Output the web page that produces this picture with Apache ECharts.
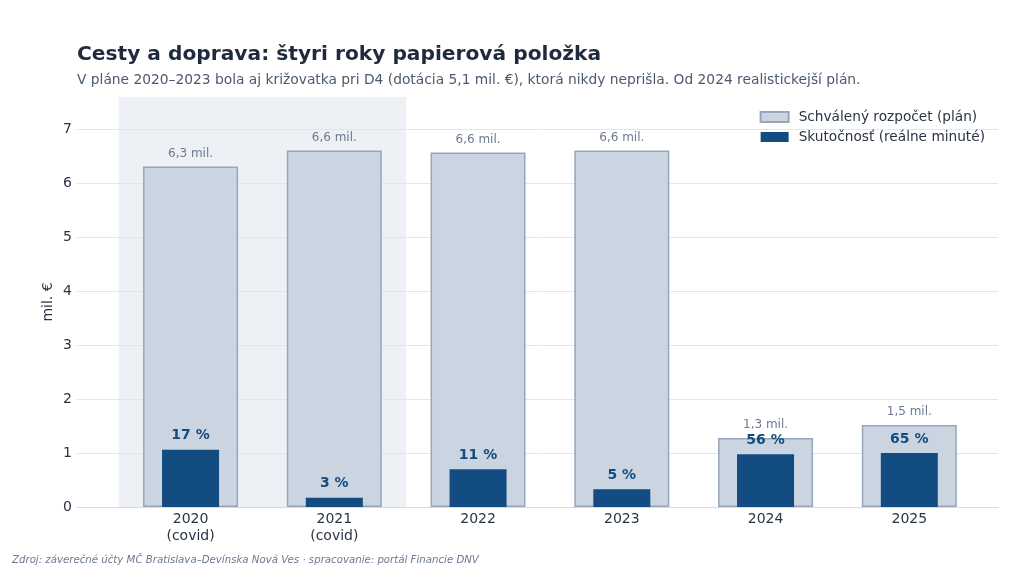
<!DOCTYPE html>
<html>
<head>
<meta charset="utf-8">
<script src="https://cdn.jsdelivr.net/npm/echarts@6/dist/echarts.min.js"></script>
<style>
html,body{margin:0;padding:0;background:#fff;}
#c{width:1024px;height:570px;}
</style>
</head>
<body>
<div id="c"></div>
<script>
const years = ['2020', '2021', '2022', '2023', '2024', '2025'];
const yearLabels = ['2020\n(covid)', '2021\n(covid)', '2022', '2023', '2024', '2025'];
const planValues = [6.31, 6.61, 6.57, 6.61, 1.28, 1.52];
const actualValues = [1.06, 0.17, 0.70, 0.33, 0.98, 1.00];
const pctLabels = [17, 3, 11, 5, 56, 65];
const yTicks = [0, 1, 2, 3, 4, 5, 6, 7];
const covidRange = [-0.5, 1.5];

const FONT = 'DejaVu Sans';
const chart = echarts.init(document.getElementById('c'), null, {renderer: 'canvas'});

const xIdx = years.map((y, i) => i);
const xAxisBase = {
  type: 'value',
  min: -0.79,
  max: 5.617,
  splitLine: {show: false},
  axisTick: {show: false},
};

chart.setOption({
  animation: false,
  backgroundColor: '#ffffff',
  textStyle: {fontFamily: FONT},
  title: [
    {
      text: 'Cesty a doprava: štyri roky papierová položka',
      left: 72, top: 40,
      textStyle: {fontFamily: FONT, fontSize: 20.2, fontWeight: 'bold', color: '#1f2a3c'}
    },
    {
      text: 'V pláne 2020–2023 bola aj križovatka pri D4 (dotácia 5,1 mil. €), ktorá nikdy neprišla. Od 2024 realistickejší plán.',
      left: 72, top: 68,
      textStyle: {fontFamily: FONT, fontSize: 13.8, fontWeight: 'normal', color: '#4b5a6e'}
    },
    {
      text: 'Zdroj: záverečné účty MČ Bratislava–Devínska Nová Ves · spracovanie: portál Financie DNV',
      left: 7, top: 550,
      textStyle: {fontFamily: FONT, fontSize: 10.2, fontStyle: 'italic', fontWeight: 'normal', color: '#6b7a90'}
    }
  ],
  legend: {
    right: 34, top: 105,
    orient: 'vertical',
    itemWidth: 28, itemHeight: 10, itemGap: 6,
    align: 'left',
    textStyle: {fontFamily: FONT, fontSize: 13.7, color: '#2a3444', padding: [0, 0, 0, 5]},
    data: [
      {name: 'Schválený rozpočet (plán)', icon: 'rect'},
      {name: 'Skutočnosť (reálne minuté)', icon: 'rect'}
    ]
  },
  grid: {left: 77, right: 26, top: 97, bottom: 63, containLabel: false},
  xAxis: [
    Object.assign({}, xAxisBase, {
      axisLine: {show: true, lineStyle: {color: '#d5dce5', width: 1}},
      axisLabel: {
        customValues: xIdx,
        formatter: v => yearLabels[Math.round(v)] || '',
        fontFamily: FONT, fontSize: 14, color: '#2a3444', lineHeight: 17, margin: 4
      }
    }),
    Object.assign({}, xAxisBase, {
      show: false
    })
  ],
  yAxis: {
    type: 'value',
    min: 0, max: 7.6,
    interval: 1,
    name: 'mil. €',
    nameLocation: 'middle',
    nameGap: 22,
    nameRotate: 90,
    nameMoveOverlap: false,
    nameTextStyle: {fontFamily: FONT, fontSize: 14, color: '#2a3444'},
    axisLine: {show: false},
    axisTick: {show: false},
    splitLine: {show: false},
    axisLabel: {
      customValues: yTicks,
      fontFamily: FONT, fontSize: 14, color: '#2a3444', margin: 5
    }
  },
  series: [
    {
      name: 'Schválený rozpočet (plán)',
      type: 'bar',
      xAxisIndex: 0,
      barWidth: 95,
      z: 2,
      data: planValues.map((v, i) => [i, v]),
      itemStyle: {color: '#cbd5e1', borderColor: '#97a6bb', borderWidth: 1.5},
      label: {
        show: true, position: 'top', distance: 7,
        formatter: p => p.value[1].toFixed(1).replace('.', ',') + ' mil.',
        fontFamily: FONT, fontSize: 12, color: '#6b7a90'
      },
      markArea: {
        silent: true,
        z: 0,
        itemStyle: {color: '#edf1f5'},
        data: [[{xAxis: covidRange[0], yAxis: 0}, {xAxis: covidRange[1], yAxis: 7.6}]]
      },
      markLine: {
        silent: true,
        symbol: ['none', 'none'],
        label: {show: false},
        z: 1,
        lineStyle: {color: '#e1e6ee', width: 1, type: 'solid'},
        data: yTicks.filter(t => t > 0).map(t => ({yAxis: t}))
      }
    },
    {
      name: 'Skutočnosť (reálne minuté)',
      type: 'bar',
      xAxisIndex: 1,
      barWidth: 57,
      z: 3,
      data: actualValues.map((v, i) => [i, v]),
      itemStyle: {color: '#124c80'},
      label: {
        show: true, position: 'top', distance: 7,
        formatter: p => pctLabels[p.dataIndex] + ' %',
        fontFamily: FONT, fontSize: 14, fontWeight: 'bold', color: '#124c80'
      }
    }
  ]
});
</script>
</body>
</html>
